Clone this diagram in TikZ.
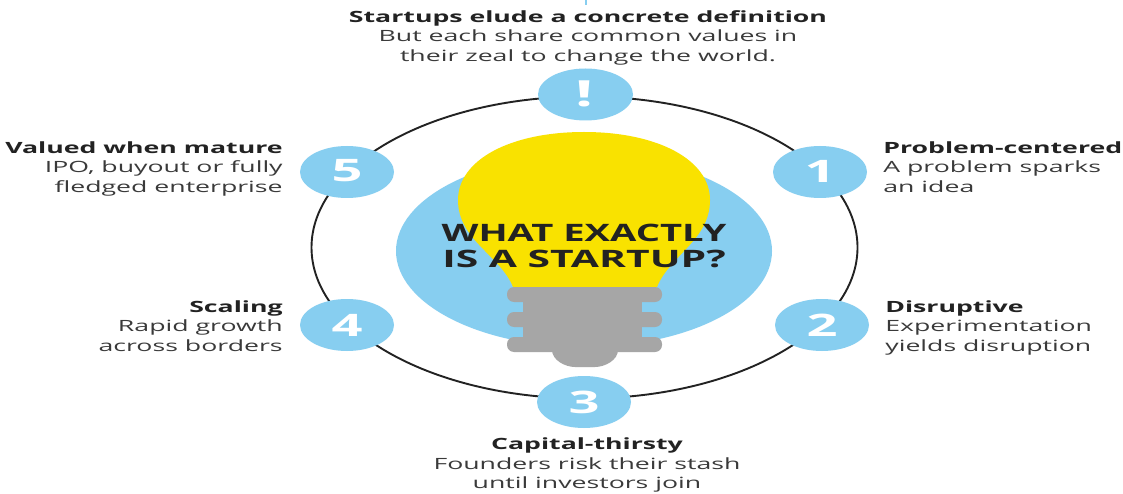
\documentclass[tikz,border=0pt]{standalone}
\usepackage{fontspec}
\setmainfont{Open Sans}
\definecolor{skyb}{HTML}{87CEF0}
\definecolor{bulby}{HTML}{F9E200}
\definecolor{screwg}{HTML}{A6A6A6}
\definecolor{inkd}{HTML}{222222}
\definecolor{inkm}{HTML}{3A3A3A}
\newcommand{\ptext}[2]{{\bfseries\color{inkd}#1}\\ #2}
\tikzset{
  x=1pt,y=-1pt,
  badge/.style={draw=none,fill=skyb},
  badgenum/.style={text=white,font=\fontsize{31}{31}\selectfont\bfseries,xscale=1.75,transform shape},
  infotext/.style={text=inkm,font=\fontsize{15.5}{19.5}\selectfont,xscale=1.72,transform shape,inner sep=0pt},
  infoL/.style={infotext,align=right,anchor=north east},
  infoR/.style={infotext,align=left,anchor=north west},
  infoC/.style={infotext,align=center,anchor=north},
  ring/.style={draw=inkd,line width=1.9pt},
  screwbar/.style={fill=screwg,rounded corners=7pt}
}
\begin{document}
\begin{tikzpicture}
\useasboundingbox[fill=white] (0,0) rectangle (1123,494);
\fill[skyb] (585,0) rectangle (587,5);
\draw[ring] (584.5,247.5) ellipse [x radius=273,y radius=151];
\fill[skyb] (584,251) ellipse [x radius=188,y radius=96];
% bulb
\fill[bulby] (513,287) .. controls (500,255) and (458,240) .. (458,200)
  .. controls (458,160) and (510,132) .. (584,132)
  .. controls (658,132) and (710,160) .. (710,200)
  .. controls (710,240) and (670,255) .. (657,287) -- cycle;
% screw
\fill[screwg] (523,287) rectangle (642,352);
\fill[screwbar] (507,287) rectangle (662,302);
\fill[screwbar] (507,312) rectangle (662,327);
\fill[screwbar] (507,337) rectangle (662,352);
\fill[screwg] (552,350) -- (618,350) .. controls (618,360) and (605,367) .. (595,367) -- (575,367) .. controls (565,367) and (552,360) .. (552,350) -- cycle;
\node[text=inkd,align=center,font=\fontsize{24}{26.5}\selectfont\bfseries,xscale=1.59,transform shape] (title) at (584,246) {WHAT EXACTLY\\\scalebox{1.07}[1]{IS A STARTUP?}};
% badges
\path[badge] (585.5,94.5) ellipse [x radius=47.5,y radius=26];
\path[badge] (820,172) ellipse [x radius=47,y radius=26];
\path[badge] (822,325) ellipse [x radius=47,y radius=26];
\path[badge] (584,402) ellipse [x radius=47,y radius=26];
\path[badge] (347,325) ellipse [x radius=47,y radius=26];
\path[badge] (347,172) ellipse [x radius=47,y radius=26];
\node[badgenum,font=\fontsize{36}{36}\selectfont\bfseries] (n0) at (585,94) {!};
\node[badgenum] (n1) at (820,171) {1};
\node[badgenum] (n2) at (822,325) {2};
\node[badgenum] (n3) at (584,402) {3};
\node[badgenum] (n4) at (347,325) {4};
\node[badgenum] (n5) at (347,171) {5};
% texts
\node[infoC] (t0) at (588,10) {\ptext{Startups elude a concrete definition}{But each share common values in\\their zeal to change the world.}};
\node[infoL] (t5) at (283,141.5) {\ptext{Valued when mature}{IPO, buyout or fully\\fledged enterprise}};
\node[infoL] (t4) at (283,300.5) {\ptext{Scaling}{Rapid growth\\across borders}};
\node[infoR] (t1) at (883,141.5) {\ptext{Problem-centered}{A problem sparks\\an idea}};
\node[infoR] (t2) at (885,300.5) {\ptext{Disruptive}{Experimentation\\yields disruption}};
\node[infoC] (t3) at (587,438) {\ptext{Capital-thirsty}{Founders risk their stash\\until investors join}};
\end{tikzpicture}
\end{document}
